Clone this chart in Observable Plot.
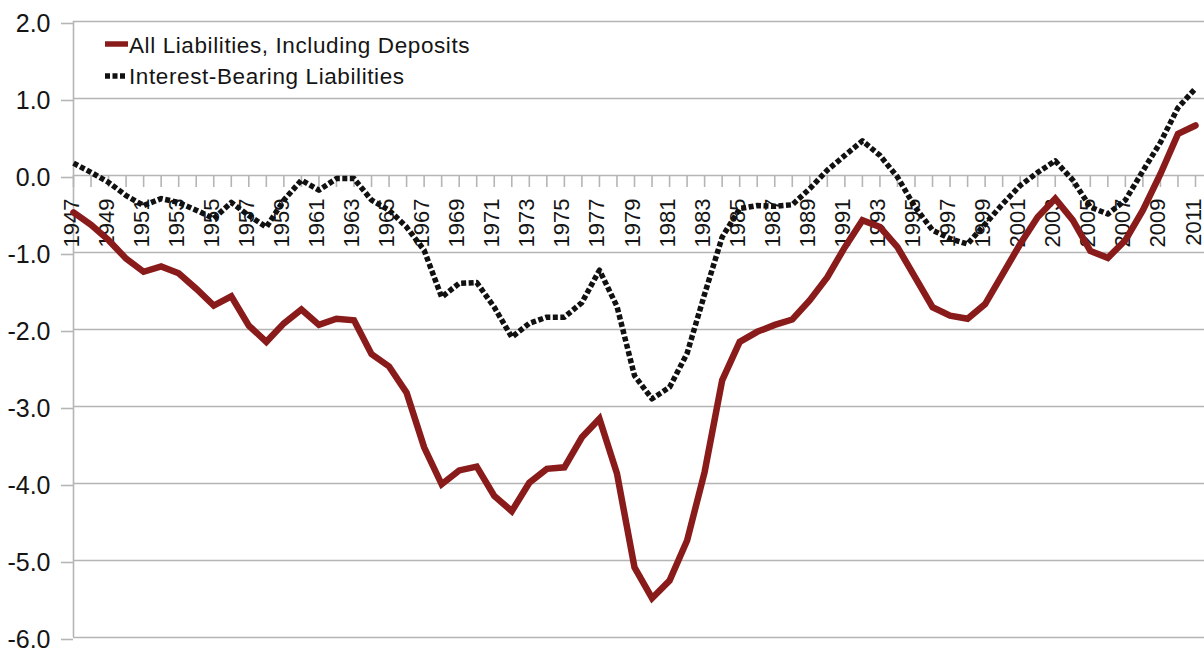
<!DOCTYPE html>
<html>
<head>
<meta charset="utf-8">
<script src="https://cdn.jsdelivr.net/npm/d3@7"></script>
<script src="https://cdn.jsdelivr.net/npm/@observablehq/plot@0.6"></script>
<style>
  body { margin: 0; background: #fff; }
  #wrap { position: relative; width: 1204px; height: 649px; overflow: hidden; font-family: "Liberation Sans", Arial, sans-serif; }
  #wrap svg { display: block; }
</style>
</head>
<body>
<div id="wrap"></div>
<script>
const years = [1947,1948,1949,1950,1951,1952,1953,1954,1955,1956,1957,1958,1959,1960,1961,1962,1963,1964,1965,1966,1967,1968,1969,1970,1971,1972,1973,1974,1975,1976,1977,1978,1979,1980,1981,1982,1983,1984,1985,1986,1987,1988,1989,1990,1991,1992,1993,1994,1995,1996,1997,1998,1999,2000,2001,2002,2003,2004,2005,2006,2007,2008,2009,2010,2011];
const allLiabilities = [-0.48,-0.64,-0.84,-1.08,-1.25,-1.18,-1.27,-1.47,-1.69,-1.57,-1.95,-2.16,-1.92,-1.74,-1.94,-1.86,-1.88,-2.32,-2.48,-2.82,-3.53,-4.01,-3.83,-3.78,-4.16,-4.36,-3.99,-3.81,-3.79,-3.40,-3.16,-3.87,-5.09,-5.49,-5.26,-4.74,-3.85,-2.66,-2.16,-2.03,-1.94,-1.87,-1.62,-1.32,-0.93,-0.58,-0.67,-0.93,-1.32,-1.71,-1.82,-1.86,-1.67,-1.28,-0.89,-0.54,-0.30,-0.58,-0.98,-1.07,-0.84,-0.45,0.02,0.54,0.65];
const interestBearing = [0.16,0.04,-0.09,-0.26,-0.39,-0.30,-0.35,-0.45,-0.56,-0.35,-0.52,-0.67,-0.32,-0.06,-0.19,-0.04,-0.04,-0.32,-0.45,-0.67,-0.97,-1.58,-1.40,-1.39,-1.71,-2.10,-1.92,-1.84,-1.84,-1.65,-1.23,-1.70,-2.60,-2.90,-2.75,-2.31,-1.54,-0.80,-0.43,-0.39,-0.40,-0.38,-0.17,0.07,0.26,0.45,0.26,-0.02,-0.41,-0.71,-0.82,-0.89,-0.63,-0.37,-0.13,0.04,0.19,-0.06,-0.41,-0.50,-0.32,0.06,0.43,0.88,1.13];
const yTicks = [2, 1, 0, -1, -2, -3, -4, -5, -6];
const labelYears = [1947,1949,1951,1953,1955,1957,1959,1961,1963,1965,1967,1969,1971,1973,1975,1977,1979,1981,1983,1985,1987,1989,1991,1993,1995,1997,1999,2001,2003,2005,2007,2009,2011];
const seriesNames = ["All Liabilities, Including Deposits", "Interest-Bearing Liabilities"];

const rows = years.map((year, i) => ({year, all: allLiabilities[i], ib: interestBearing[i]}));

const RED = "#8a1b1b";
const GRID = "#b5b5b5";
const TEXT = "#151515";

const chart = Plot.plot({
  width: 1204,
  height: 649,
  marginLeft: 73,
  marginRight: 0,
  marginTop: 21,
  marginBottom: 12,
  style: {fontFamily: "'Liberation Sans', Arial, sans-serif", background: "#fff", overflow: "visible"},
  x: {domain: [years[0], years[years.length - 1]], range: [73, 1195], axis: null},
  y: {domain: [-6, 2], axis: null},
  marks: [
    Plot.ruleY(yTicks, {stroke: GRID, strokeWidth: 1.6}),
    Plot.ruleX([years[0]], {stroke: GRID, strokeWidth: 1.6}),
    Plot.axisY(yTicks, {
      tickSize: 12, tickPadding: 11, fontSize: 25,
      tickFormat: d => d.toFixed(1),
      stroke: GRID, strokeWidth: 1.6, fill: TEXT, dy: 2
    }),
    Plot.ruleX(years, {x: d => d, y1: 0, y2: 0, insetBottom: -12, stroke: GRID, strokeWidth: 1.6}),
    Plot.text(labelYears, {
      x: d => d, y: 0, text: d => String(d),
      rotate: -90, textAnchor: "end", lineAnchor: "middle",
      dy: 23, dx: -2, fontSize: 22, fill: TEXT
    }),
    Plot.line(rows, {x: "year", y: "all", stroke: RED, strokeWidth: 6.5, strokeLinejoin: "miter", strokeMiterlimit: 2}),
    Plot.line(rows, {x: "year", y: "ib", stroke: "#111", strokeWidth: 5.5, strokeDasharray: "5,2.5", strokeLinecap: "butt"})
  ]
});

const wrap = document.getElementById("wrap");
wrap.appendChild(chart);

// legend overlay inside the plot area
const leg = d3.select(wrap).append("svg")
  .attr("width", 520).attr("height", 100)
  .style("position", "absolute").style("left", "0px").style("top", "0px")
  .style("font-family", "'Liberation Sans', Arial, sans-serif");

leg.append("line").attr("x1", 105).attr("x2", 128).attr("y1", 44).attr("y2", 44)
  .attr("stroke", RED).attr("stroke-width", 5.5);
leg.append("text").attr("x", 129).attr("y", 53).attr("font-size", 22.5)
  .attr("letter-spacing", 0.6).attr("fill", TEXT).text(seriesNames[0]);
leg.append("line").attr("x1", 105).attr("x2", 127).attr("y1", 76).attr("y2", 76)
  .attr("stroke", "#111").attr("stroke-width", 5.5).attr("stroke-dasharray", "5,2.5");
leg.append("text").attr("x", 129).attr("y", 84).attr("font-size", 22.5)
  .attr("letter-spacing", 0.6).attr("fill", TEXT).text(seriesNames[1]);
</script>
</body>
</html>
